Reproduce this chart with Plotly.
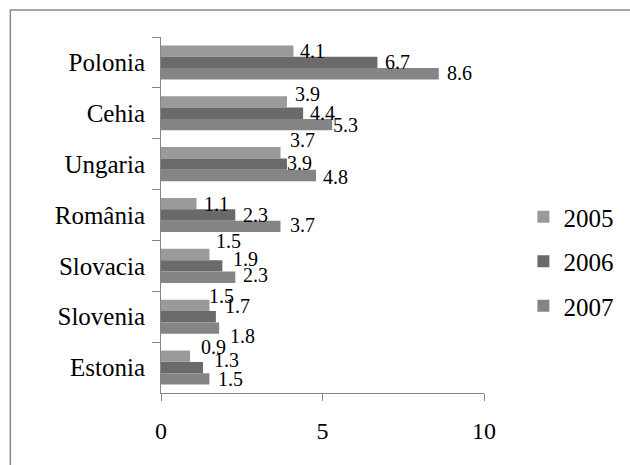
import plotly.graph_objects as go

countries = ["Polonia", "Cehia", "Ungaria", "România", "Slovacia", "Slovenia", "Estonia"]
years = ["2005", "2006", "2007"]
v2005 = [4.1, 3.9, 3.7, 1.1, 1.5, 1.5, 0.9]
v2006 = [6.7, 4.4, 3.9, 2.3, 1.9, 1.7, 1.3]
v2007 = [8.6, 5.3, 4.8, 3.7, 2.3, 1.8, 1.5]
series = [v2005, v2006, v2007]
x_ticks = [0, 5, 10]

colors = ["#9a9a9a", "#6a6a6a", "#858585"]

# label placement tweaks (pixels) mimicking the original label layout: [series][country]
label_dx = [
    [7, 8, 9, 7, 7, 0, 11],
    [8, 7, 0, 8, 11, 9, 11],
    [8, 1, 7, 9, 8, 11, 9],
]
label_dy = [
    [0, 8, 13, 0, 14, 9, 9],
    [0, 0, 1, 0, 7, 11, 8],
    [1, 0, -1, 1, 2, -8, 0],
]

FONT = "Times New Roman, Liberation Serif, Tinos, DejaVu Serif, serif"
W, H = 630, 465
L, R, T, B = 161, 141, 37, 72
BARGAP = 0.33

fig = go.Figure()
for k, (yr, vals) in enumerate(zip(years, series)):
    fig.add_trace(go.Bar(
        y=countries, x=vals, orientation="h", name=yr,
        marker=dict(color=colors[k], line=dict(width=0)),
        legendgroup=yr,
    ))

annotations = []
bw = (1 - BARGAP) / len(series)
for k, vals in enumerate(series):
    off = -(1 - BARGAP) / 2 + bw * (k + 0.5)
    for i, v in enumerate(vals):
        annotations.append(dict(
            x=v, y=i + off, xref="x", yref="y", text=f"{v}",
            showarrow=False, xanchor="left", yanchor="middle",
            xshift=label_dx[k][i] - 2, yshift=label_dy[k][i],
            font=dict(family=FONT, size=20, color="black"),
        ))

pw = W - L - R
ph = H - T - B
def px_x(p):
    return (p - L) / pw
def px_y(p):
    return (H - B - p) / ph

fig.update_layout(
    width=W, height=H, autosize=False,
    margin=dict(l=L, r=R, t=T, b=B, pad=0),
    paper_bgcolor="white", plot_bgcolor="white",
    barmode="group", bargap=BARGAP, bargroupgap=0,
    font=dict(family=FONT, color="black"),
    xaxis=dict(
        range=[0, 10], tickvals=x_ticks, showgrid=False, zeroline=False,
        showline=True, linecolor="#868686", linewidth=1,
        ticks="outside", ticklen=7, tickcolor="#868686", tickwidth=1,
        tickfont=dict(family=FONT, size=24, color="black"),
        ticklabelstandoff=9,
    ),
    yaxis=dict(
        range=[6.5, -0.5], type="category", showgrid=False, zeroline=False,
        showline=True, linecolor="#868686", linewidth=1,
        ticks="outside", ticklen=8, tickcolor="#868686", tickwidth=1,
        tickson="boundaries",
        tickfont=dict(family=FONT, size=25, color="black"),
        ticklabelstandoff=10,
    ),
    legend=dict(
        x=px_x(529), y=px_y(194), xanchor="left", yanchor="top",
        font=dict(family=FONT, size=25, color="black"),
        traceorder="grouped", tracegroupgap=9,
        bgcolor="rgba(0,0,0,0)", borderwidth=0,
    ),
    annotations=annotations,
    shapes=[dict(
        type="rect", xref="paper", yref="paper",
        x0=px_x(8), x1=px_x(640), y0=px_y(480), y1=px_y(10),
        line=dict(color="#8a8a8a", width=1.5), layer="below",
    )],
)

fig.write_html("out.html")
